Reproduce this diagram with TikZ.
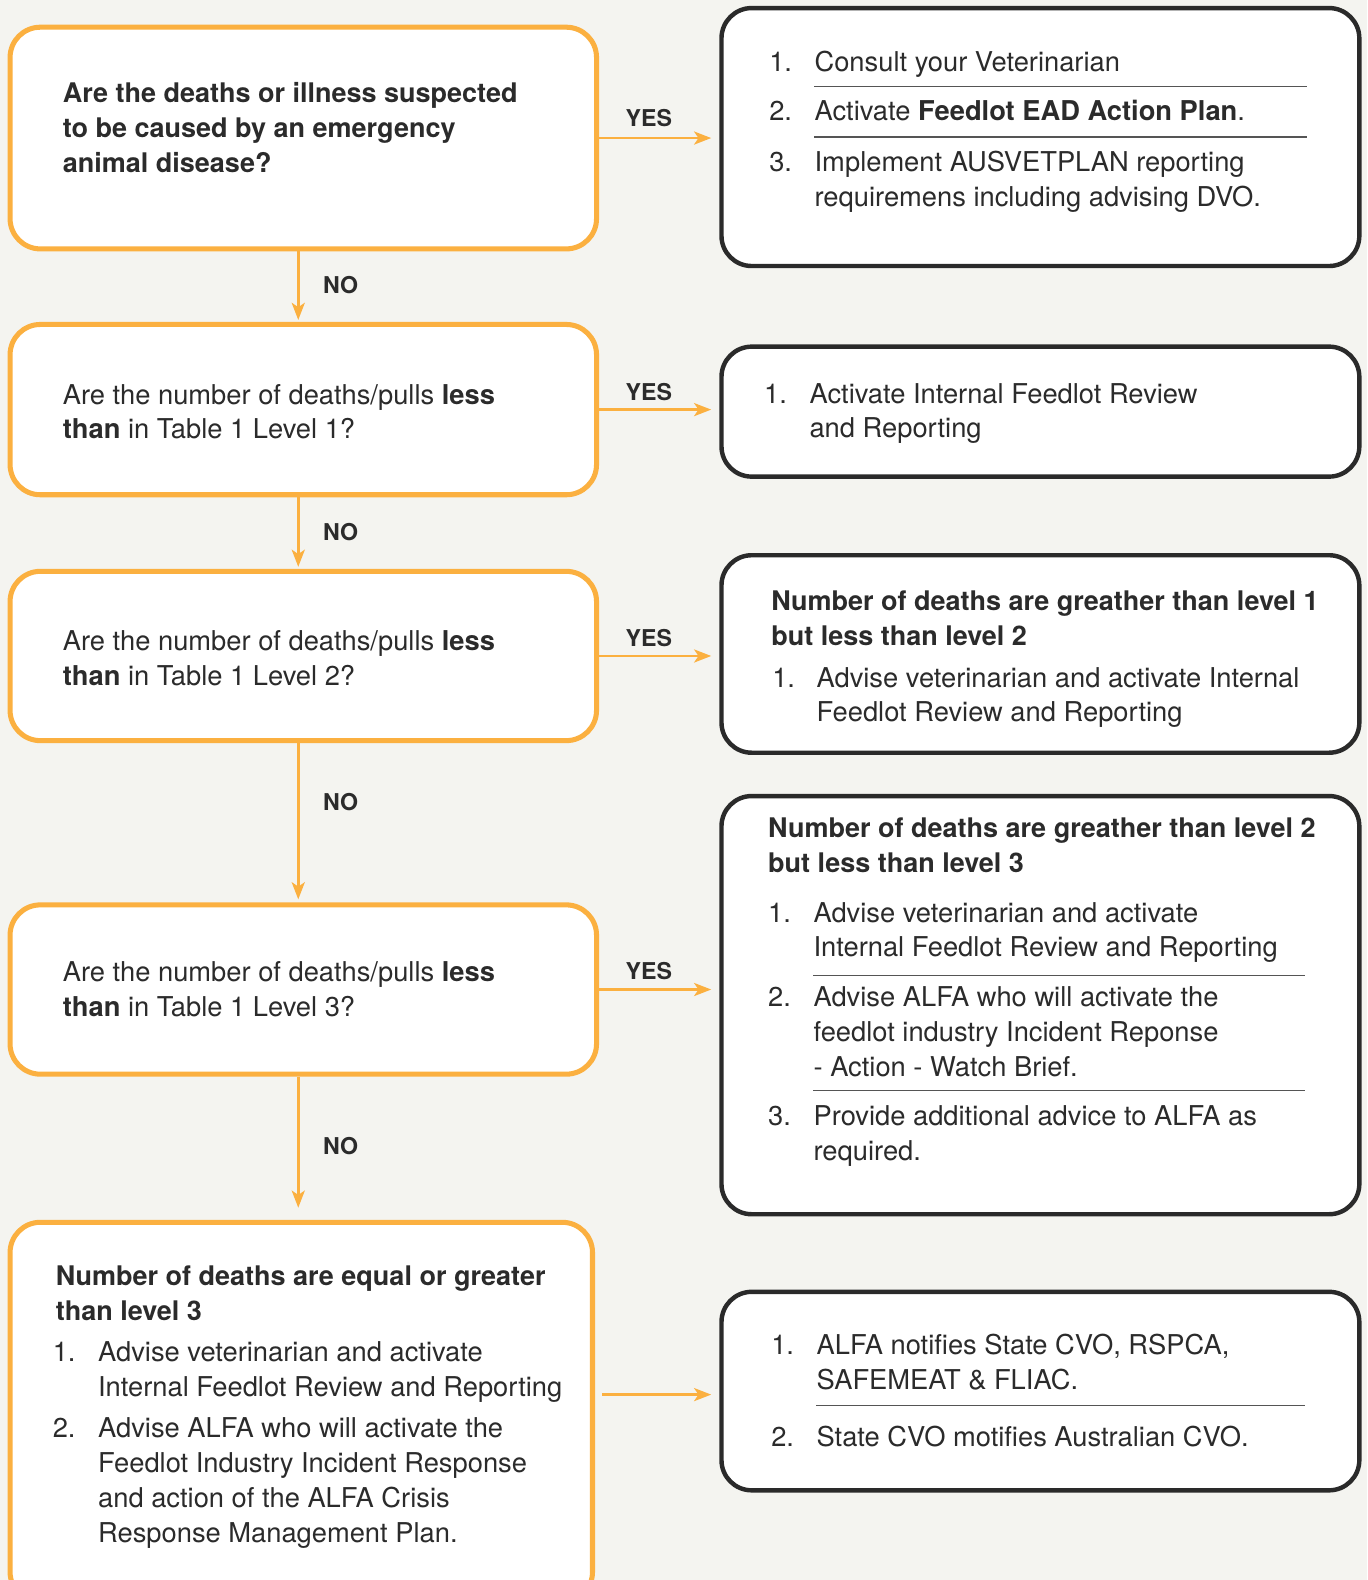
\documentclass[tikz,border=0pt]{standalone}
\usepackage{fontspec}
\setmainfont{TeX Gyre Heros}
\usetikzlibrary{arrows.meta}
\definecolor{orng}{HTML}{FBB040}
\definecolor{bgc}{HTML}{F4F4F0}
\definecolor{ink}{HTML}{2B2B2B}
\definecolor{edgec}{HTML}{2A2A2A}
\newcommand\mylines[1]{\vtop{\baselineskip=17.25pt\lineskiplimit=-10pt\tabskip=0pt\halign{##\hfil\cr#1\crcr}}}
\begin{document}
\begin{tikzpicture}[x=0.5pt,y=-0.5pt, font=\fontsize{13.55}{17.25}\selectfont, text=ink,
  obox/.style={draw=orng, line width=2.5pt, fill=white, rounded corners=15pt, inner sep=0pt},
  kbox/.style={draw=edgec, line width=2.2pt, fill=white, rounded corners=15pt, inner sep=0pt},
  txt/.style={anchor=base west, inner sep=0pt},
  btxt/.style={anchor=base west, inner sep=0pt, font=\fontsize{13.4}{17.25}\selectfont\bfseries},
  lbl/.style={font=\fontsize{11.5}{14}\selectfont\bfseries, inner sep=0pt},
  arr/.style={draw=orng, line width=1.25pt, -{Stealth[length=8.5pt,width=6.5pt,inset=2.2pt]}},
  sepline/.style={draw=edgec!80, line width=0.7pt}]
\useasboundingbox (0,0) rectangle (1357,1568);
\fill[bgc] (0,0) rectangle (1357,1568);

% left (question) boxes
\node[obox, minimum width=291pt, minimum height=110pt] (b1) at (301,137) {};
\node[obox, minimum width=291pt, minimum height=84.5pt] (b2) at (301,406.5) {};
\node[obox, minimum width=291pt, minimum height=84pt] (b3) at (301,651) {};
\node[obox, minimum width=291pt, minimum height=84pt] (b4) at (301,982) {};
\node[obox, minimum width=289pt, minimum height=188.5pt] (b5) at (299,1401.5) {};

% right (action) boxes
\node[kbox, minimum width=316.5pt, minimum height=128pt] (r1) at (1032.5,136) {};
\node[kbox, minimum width=316.5pt, minimum height=64.5pt] (r2) at (1032.5,408.5) {};
\node[kbox, minimum width=316.5pt, minimum height=98pt] (r3) at (1032.5,649) {};
\node[kbox, minimum width=316.5pt, minimum height=207.5pt] (r4) at (1032.5,997.5) {};
\node[kbox, minimum width=316.5pt, minimum height=98.5pt] (r5) at (1032.5,1380.5) {};

% question texts
\node[btxt] (q1) at (62,102)
  {\mylines{Are the deaths or illness suspected\cr to be caused by an emergency\cr animal disease?}};
\node[txt] (q2) at (62,401) {\mylines{Are the number of deaths/pulls \textbf{less}\cr \textbf{than} in Table 1 Level 1?}};
\node[txt] (q3) at (62,646) {\mylines{Are the number of deaths/pulls \textbf{less}\cr \textbf{than} in Table 1 Level 2?}};
\node[txt] (q4) at (62,974) {\mylines{Are the number of deaths/pulls \textbf{less}\cr \textbf{than} in Table 1 Level 3?}};

% box 5
\node[btxt] (h5) at (55,1276)
  {\mylines{Number of deaths are equal or greater\cr than level 3}};
\node[txt] (n51) at (52,1351) {1.};
\node[txt] (t51) at (97,1351) {\mylines{Advise veterinarian and activate\cr Internal Feedlot Review and Reporting}};
\node[txt] (n52) at (52,1427) {2.};
\node[txt] (t52) at (97,1427) {\mylines{Advise ALFA who will activate the\cr Feedlot Industry Incident Response\cr and action of the ALFA Crisis\cr Response Management Plan.}};

% R1
\node[txt] (n11) at (763,71) {1.};
\node[txt] (t11) at (808,71) {Consult your Veterinarian};
\draw[sepline] (808,86) -- (1297,86);
\node[txt] (n12) at (763,120) {2.};
\node[txt] (t12) at (808,120) {Activate \textbf{Feedlot EAD Action Plan}.};
\draw[sepline] (808,136) -- (1297,136);
\node[txt] (n13) at (763,170) {3.};
\node[txt] (t13) at (808,170) {\mylines{Implement AUSVETPLAN reporting\cr requiremens including advising DVO.}};

% R2
\node[txt] (n21) at (758,400) {1.};
\node[txt] (t21) at (803,400) {\mylines{Activate Internal Feedlot Review\cr and Reporting}};

% R3
\node[btxt] (h3) at (765,606)
  {\mylines{Number of deaths are greather than level 1\cr but less than level 2}};
\node[txt] (n31) at (766,682) {1.};
\node[txt] (t31) at (810,682) {\mylines{Advise veterinarian and activate Internal\cr Feedlot Review and Reporting}};

% R4
\node[btxt] (h4) at (762,831)
  {\mylines{Number of deaths are greather than level 2\cr but less than level 3}};
\node[txt] (n41) at (762,915) {1.};
\node[txt] (t41) at (807,915) {\mylines{Advise veterinarian and activate\cr Internal Feedlot Review and Reporting}};
\draw[sepline] (807,968) -- (1295,968);
\node[txt] (n42) at (762,999) {2.};
\node[txt] (t42) at (807,999) {\mylines{Advise ALFA who will activate the\cr feedlot industry Incident Reponse\cr - Action - Watch Brief.}};
\draw[sepline] (807,1082) -- (1295,1082);
\node[txt] (n43) at (762,1117) {3.};
\node[txt] (t43) at (807,1117) {\mylines{Provide additional advice to ALFA as\cr required.}};

% R5
\node[txt] (n51r) at (765,1344) {1.};
\node[txt] (t51r) at (810,1344) {\mylines{ALFA notifies State CVO, RSPCA,\cr SAFEMEAT \& FLIAC.}};
\draw[sepline] (810,1395) -- (1295,1395);
\node[txt] (n52r) at (765,1435) {2.};
\node[txt] (t52r) at (810,1435) {State CVO motifies Australian CVO.};

% connectors
\coordinate (col) at (296,0);
\draw[arr, shorten >=1pt] (b1.south -| col) -- (b2.north -| col);
\draw[arr, shorten >=1pt] (b2.south -| col) -- (b3.north -| col);
\draw[arr, shorten >=1.5pt] (b3.south -| col) -- (b4.north -| col);
\draw[arr, shorten >=6pt] (b4.south -| col) -- (b5.north -| col);
\draw[arr, shorten >=4pt] (b1.east) -- (b1.east -| r1.west);
\draw[arr, shorten >=4pt] (b2.east) -- (b2.east -| r2.west);
\draw[arr, shorten >=4pt] (b3.east) -- (b3.east -| r3.west);
\draw[arr, shorten >=4pt] (b4.east) -- (b4.east -| r4.west);
\draw[arr, shorten <=3.5pt, shorten >=4pt] (b5.east |- 0,1384) coordinate (a5) -- (a5 -| r5.west);

% labels
\node[lbl] (y1) at (644,117) {YES};
\node[lbl] (y2) at (644,389) {YES};
\node[lbl] (y3) at (644,633) {YES};
\node[lbl] (y4) at (644,964) {YES};
\node[lbl] (o1) at (338,283) {NO};
\node[lbl] (o2) at (338,528) {NO};
\node[lbl] (o3) at (338,796) {NO};
\node[lbl] (o4) at (338,1137) {NO};
\end{tikzpicture}
\end{document}
